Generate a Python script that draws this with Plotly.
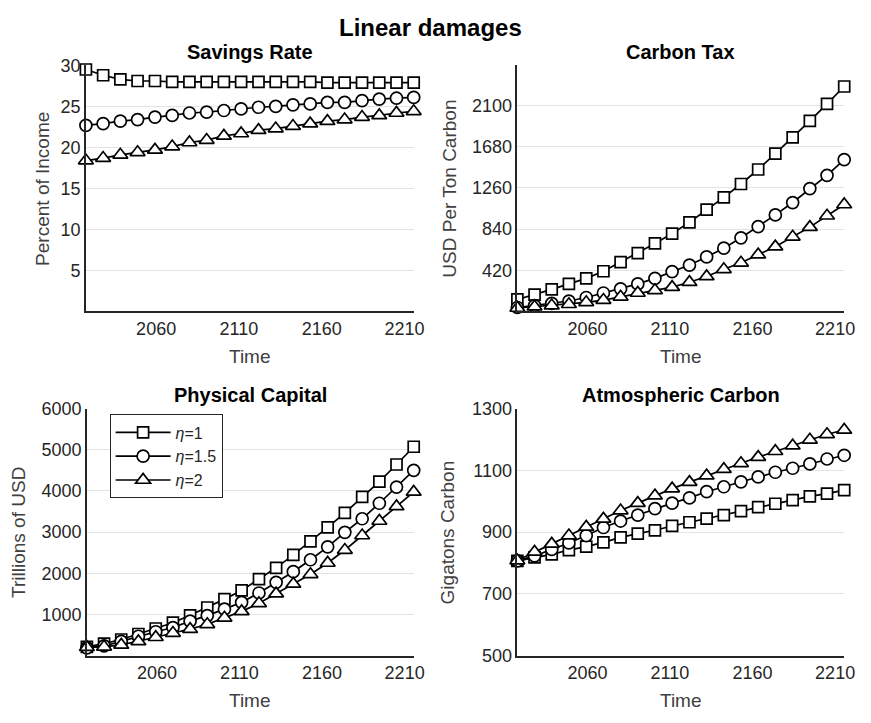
import plotly.graph_objects as go

# Time points of the model periods
years = [2017.6, 2028.0, 2038.4, 2048.8, 2059.3, 2069.7, 2080.1, 2090.5, 2100.9, 2111.3,
         2121.8, 2132.2, 2142.6, 2153.0, 2163.4, 2173.8, 2184.3, 2194.7, 2205.1, 2215.5]

series_names = ["<i>η</i>=1", "<i>η</i>=1.5", "<i>η</i>=2"]
symbols = ["square", "circle", "triangle-up"]
sizes = [11, 12, 13]

# Savings rate (percent of income)
savings_eta1 = [29.5, 28.8, 28.3, 28.1, 28.1, 28.0, 28.0, 28.0, 28.0, 28.0,
                28.0, 28.0, 28.0, 28.0, 27.9, 27.9, 27.9, 27.9, 27.9, 27.9]
savings_eta15 = [22.7, 22.9, 23.2, 23.4, 23.7, 23.9, 24.2, 24.3, 24.5, 24.7,
                 24.9, 25.0, 25.2, 25.3, 25.5, 25.5, 25.7, 25.9, 26.0, 26.1]
savings_eta2 = [18.4, 18.7, 19.1, 19.4, 19.7, 20.1, 20.6, 20.9, 21.4, 21.7,
                22.1, 22.3, 22.6, 22.9, 23.2, 23.4, 23.7, 23.9, 24.2, 24.4]

# Carbon tax (USD per ton carbon)
tax_eta1 = [122, 172, 225, 281, 337, 410, 503, 595, 694, 794,
            909, 1038, 1164, 1300, 1448, 1610, 1776, 1945, 2117, 2295]
tax_eta15 = [40, 60, 83, 106, 142, 188, 231, 281, 337, 407,
             473, 556, 645, 751, 866, 985, 1111, 1253, 1389, 1548]
tax_eta2 = [35, 48, 60, 73, 93, 116, 149, 188, 215, 248,
            298, 357, 430, 496, 579, 661, 761, 860, 976, 1091]

# Physical capital (trillions of USD)
capital_eta1 = [212, 290, 392, 525, 659, 800, 980, 1169, 1373, 1584,
                1859, 2133, 2447, 2776, 3114, 3467, 3859, 4227, 4643, 5075]
capital_eta15 = [190, 235, 345, 471, 580, 682, 839, 973, 1129, 1294,
                 1522, 1780, 2039, 2329, 2643, 2996, 3325, 3702, 4094, 4502]
capital_eta2 = [205, 215, 260, 345, 447, 549, 643, 761, 918, 1075,
                1271, 1506, 1741, 1976, 2251, 2565, 2918, 3271, 3624, 3976]

# Atmospheric carbon (gigatons carbon)
carbon_eta1 = [807, 818, 828, 842, 853, 867, 883, 895, 906, 920,
               932, 944, 955, 968, 981, 992, 1004, 1016, 1025, 1036]
carbon_eta15 = [807, 823, 844, 865, 889, 915, 936, 955, 976, 994,
                1011, 1031, 1047, 1063, 1079, 1094, 1107, 1121, 1137, 1149]
carbon_eta2 = [808, 836, 862, 889, 917, 943, 970, 994, 1018, 1041,
               1062, 1083, 1104, 1123, 1143, 1162, 1180, 1199, 1217, 1231]

x_ticks = [2060, 2110, 2160, 2210]

W, H = 871, 723
FONT = "Liberation Sans, Arial, sans-serif"

panels = [
    dict(title="Savings Rate", ytitle="Percent of Income",
         data=[savings_eta1, savings_eta15, savings_eta2],
         yrange=[0, 30], yticks=[5, 10, 15, 20, 25, 30],
         px_x=(87, 419), px_y=(57, 310), ytitle_x=43),
    dict(title="Carbon Tax", ytitle="USD Per Ton Carbon",
         data=[tax_eta1, tax_eta15, tax_eta2],
         yrange=[0, 2510], yticks=[420, 840, 1260, 1680, 2100],
         px_x=(524, 855), px_y=(57, 310), ytitle_x=455),
    dict(title="Physical Capital", ytitle="Trillions of USD",
         data=[capital_eta1, capital_eta15, capital_eta2],
         yrange=[0, 6000], yticks=[1000, 2000, 3000, 4000, 5000, 6000],
         px_x=(88, 419), px_y=(410, 664), ytitle_x=18),
    dict(title="Atmospheric Carbon", ytitle="Gigatons Carbon",
         data=[carbon_eta1, carbon_eta15, carbon_eta2],
         yrange=[500, 1300], yticks=[500, 700, 900, 1100, 1300],
         px_x=(524, 855), px_y=(410, 664), ytitle_x=453),
]

fig = go.Figure()
annotations = []
layout_axes = {}

for i, p in enumerate(panels):
    n = "" if i == 0 else str(i + 1)
    xa, ya = "x" + n, "y" + n
    for k in range(3):
        fig.add_trace(go.Scatter(
            x=years, y=p["data"][k], xaxis=xa, yaxis=ya,
            mode="lines+markers", name=series_names[k],
            showlegend=(i == 2), cliponaxis=False,
            line=dict(color="black", width=1.7),
            marker=dict(symbol=symbols[k], size=sizes[k], color="white",
                        line=dict(color="black", width=1.7)),
        ))
    x0, x1 = p["px_x"]
    yt, yb = p["px_y"]
    xdom = [x0 / W, x1 / W]
    ydom = [1 - yb / H, 1 - yt / H]
    layout_axes["xaxis" + n] = dict(
        domain=xdom, anchor=ya, range=[years[0], years[-1]],
        tickvals=x_ticks, ticktext=[str(t) for t in x_ticks],
        showgrid=False, zeroline=False, showline=True,
        linecolor="#262626", linewidth=1.5, ticks="",
        tickfont=dict(family=FONT, size=18, color="#262626"),
    )
    layout_axes["yaxis" + n] = dict(
        domain=ydom, anchor=xa, range=p["yrange"], tickvals=p["yticks"],
        showgrid=True, gridcolor="#e3e3e3", gridwidth=1.2,
        zeroline=False, showline=True, linecolor="#262626", linewidth=1.5,
        ticks="", tickfont=dict(family=FONT, size=18, color="#262626"),
    )
    cx = (x0 + x1) / 2
    annotations.append(dict(
        text="<b>" + p["title"] + "</b>", x=cx / W, y=1 - (yt - 14) / H,
        xref="paper", yref="paper", showarrow=False, xanchor="center", yanchor="middle",
        font=dict(family=FONT, size=20, color="black")))
    annotations.append(dict(
        text="Time", x=cx / W, y=1 - (yb + 46) / H,
        xref="paper", yref="paper", showarrow=False, xanchor="center", yanchor="middle",
        font=dict(family=FONT, size=19, color="#404040")))
    annotations.append(dict(
        text=p["ytitle"], x=p["ytitle_x"] / W, y=1 - ((yt + yb) / 2) / H,
        xref="paper", yref="paper", showarrow=False, textangle=-90,
        xanchor="center", yanchor="middle",
        font=dict(family=FONT, size=19, color="#404040")))

annotations.append(dict(
    text="<b>Linear damages</b>", x=436 / W, y=1 - 18 / H,
    xref="paper", yref="paper", showarrow=False, xanchor="center", yanchor="middle",
    font=dict(family=FONT, size=24, color="black")))

fig.update_layout(
    width=W, height=H, margin=dict(l=0, r=0, t=0, b=0),
    paper_bgcolor="white", plot_bgcolor="white",
    annotations=annotations,
    legend=dict(x=111 / W, y=1 - 416 / H, xanchor="left", yanchor="top",
                bgcolor="white", bordercolor="#262626", borderwidth=1,
                font=dict(family=FONT, size=16, color="#262626"),
                tracegroupgap=0, itemwidth=55),
    **layout_axes,
)

fig.write_html("out.html")
